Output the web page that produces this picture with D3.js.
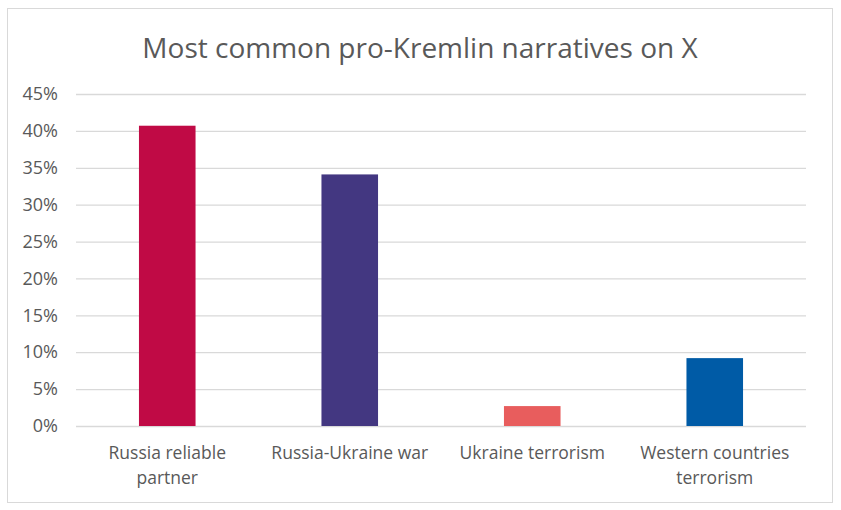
<!DOCTYPE html>
<html>
<head>
<meta charset="utf-8">
<script src="https://cdn.jsdelivr.net/npm/d3@7"></script>
<style>
  body { margin: 0; background: #fff; }
  text { font-family: "Open Sans", "Noto Sans", sans-serif; fill: #595959; }
</style>
</head>
<body>
<svg id="chart" width="841" height="510"></svg>
<script>
const categories = [
  ["Russia reliable", "partner"],
  ["Russia-Ukraine war"],
  ["Ukraine terrorism"],
  ["Western countries", "terrorism"]
];
const values = [0.407, 0.341, 0.027, 0.092];
const colors = ["#C00A45", "#433781", "#E85D5D", "#005BA6"];
const yTicks = [0, 0.05, 0.1, 0.15, 0.2, 0.25, 0.3, 0.35, 0.4, 0.45];
const title = "Most common pro-Kremlin narratives on X";

const svg = d3.select("#chart");
const margin = { top: 94, right: 35, bottom: 84, left: 76 };
const width = 841 - margin.left - margin.right;
const height = 510 - margin.top - margin.bottom;

// chart frame
svg.append("rect")
  .attr("x", 7.5).attr("y", 8.5)
  .attr("width", 825).attr("height", 494)
  .attr("fill", "#fff")
  .attr("stroke", "#D9D9D9");

svg.append("text")
  .attr("x", 420)
  .attr("y", 58)
  .attr("text-anchor", "middle")
  .style("font-size", "28px")
  .text(title);

const g = svg.append("g")
  .attr("transform", `translate(${margin.left},${margin.top})`);

const x = d3.scaleBand()
  .domain(d3.range(categories.length))
  .range([0, width])
  .paddingInner(0.69)
  .paddingOuter(0.345);

const y = d3.scaleLinear()
  .domain([0, 0.45])
  .range([height, 0]);

const yAxis = g.append("g")
  .call(d3.axisLeft(y)
    .tickValues(yTicks)
    .tickSize(-width)
    .tickPadding(18)
    .tickFormat(d3.format(".0%")));
yAxis.select(".domain").remove();
yAxis.selectAll(".tick line").attr("stroke", "#D9D9D9").attr("stroke-width", 1.3);
yAxis.selectAll(".tick text")
  .style("font-size", "18px")
  .attr("fill", "#595959");

g.selectAll("rect.bar")
  .data(values)
  .join("rect")
  .attr("class", "bar")
  .attr("x", (d, i) => x(i))
  .attr("y", d => y(d))
  .attr("width", x.bandwidth())
  .attr("height", d => height - y(d))
  .attr("fill", (d, i) => colors[i]);

const labels = g.selectAll("text.cat")
  .data(categories)
  .join("text")
  .attr("class", "cat")
  .attr("text-anchor", "middle")
  .attr("transform", (d, i) => `translate(${x(i) + x.bandwidth() / 2},${height + 33})`)
  .style("font-size", "17.5px");

labels.selectAll("tspan")
  .data(d => d)
  .join("tspan")
  .attr("x", 0)
  .attr("dy", (d, i) => i === 0 ? 0 : 25)
  .text(d => d);
</script>
</body>
</html>
